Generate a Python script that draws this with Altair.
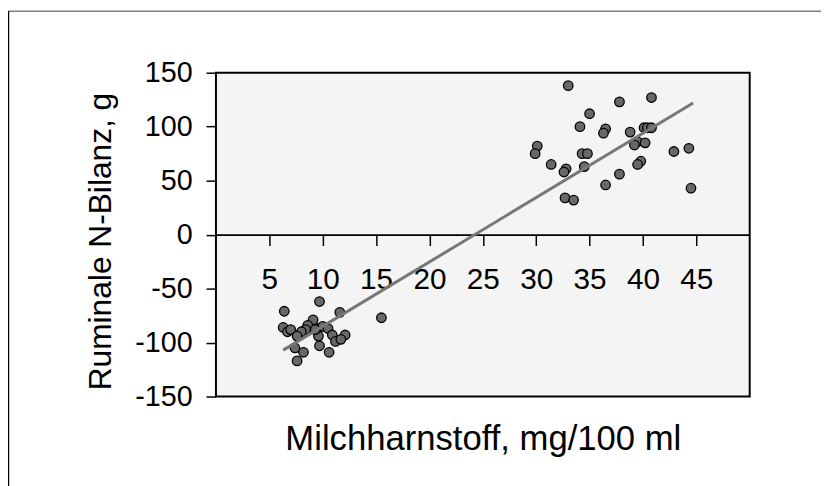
import altair as alt
import pandas as pd

# Scatter data: milk urea (mg/100 ml) vs ruminal N balance (g)
hi_x = [33.0, 37.8, 40.8, 35.0, 34.1, 36.5, 36.3, 38.8, 40.1, 40.4, 40.8, 30.1, 29.9,
        39.5, 39.2, 40.2, 34.3, 34.8, 42.9, 44.3, 31.4, 32.8, 32.6, 34.5, 39.8, 39.5,
        37.8, 36.5, 44.5, 32.7, 33.5]
hi_y = [138, 123, 127, 112, 100, 98, 94, 95, 99, 99, 99, 82, 75,
        86, 83, 85, 75, 75, 77, 80, 65, 61, 58, 63, 68, 65,
        56, 46, 43, 34, 32]
lo_x = [6.4, 9.7, 11.6, 15.5, 6.3, 6.7, 7.0, 9.1, 8.6, 8.4, 8.0, 7.6, 9.5, 10.0,
        10.5, 9.6, 10.9, 12.1, 11.2, 11.7, 9.7, 7.4, 8.2, 10.6, 7.6, 9.3]
lo_y = [-71, -62, -72, -77, -86, -90, -88, -79, -84, -88, -90, -94, -87, -85,
        -87, -94, -93, -93, -99, -97, -103, -105, -109, -109, -117, -88]

# Trend line end points
line_x = [6.3, 44.7]
line_y = [-107, 122]

x_ticks = [5, 10, 15, 20, 25, 30, 35, 40, 45]
y_ticks = [-150, -100, -50, 0, 50, 100, 150]

pts = pd.DataFrame({"x": hi_x + lo_x, "y": hi_y + lo_y})
ln = pd.DataFrame({"x": line_x, "y": line_y})

W, H = 539, 327
FONT = "Liberation Sans"

xscale = alt.Scale(domain=[0, 50], nice=False, zero=False)
yscale = alt.Scale(domain=[-150, 150], nice=False)

xaxis = alt.Axis(
    values=x_ticks, offset=-H / 2, domainColor="#000", domainWidth=2,
    tickColor="#000", tickWidth=1.5, tickSize=11, labelPadding=19,
    labelFontSize=30, labelFont=FONT, labelColor="#000", grid=False,
    labelExpr="'' + datum.value",
    title="Milchharnstoff, mg/100 ml", titleFont=FONT, titleFontSize=35,
    titleFontWeight="normal", titleColor="#000", titleY=217.5,
    titleBaseline="alphabetic", labelFlush=False,
)
yaxis = alt.Axis(
    values=y_ticks, domain=False, tickColor="#000", tickWidth=1.5, tickSize=10,
    labelPadding=14, labelFontSize=29, labelFont=FONT, labelColor="#000",
    labelExpr="'' + datum.value",
    grid=False, title="Ruminale N-Bilanz, g", titleFont=FONT, titleFontSize=32,
    titleFontWeight="normal", titleColor="#000", titleX=-106, titleY=170,
    titleAngle=-90, titleBaseline="alphabetic", titleAlign="center", labelFlush=False,
)

points = alt.Chart(pts).mark_point(
    shape="circle", filled=True, size=92, fill="#686868", stroke="#000",
    strokeWidth=1.3, opacity=1,
).encode(
    x=alt.X("x:Q", scale=xscale, axis=xaxis),
    y=alt.Y("y:Q", scale=yscale, axis=yaxis),
)

trend = alt.Chart(ln).mark_line(color="#777777", strokeWidth=3).encode(
    x=alt.X("x:Q", scale=xscale),
    y=alt.Y("y:Q", scale=yscale),
)

frame_src = pd.DataFrame({"k": [0]})
top_line = alt.Chart(frame_src).mark_rule(color="#808080", strokeWidth=1.5).encode(
    x=alt.value(-210), x2=alt.value(W + 80), y=alt.value(-62)
)
left_line = alt.Chart(frame_src).mark_rule(color="#000", strokeWidth=1.5).encode(
    x=alt.value(-209.5), y=alt.value(-62), y2=alt.value(H + 100)
)

chart = alt.layer(points, trend, top_line, left_line).properties(
    width=W, height=H,
    autosize=alt.AutoSizeParams(type="none"),
    padding={"left": 210, "top": 63, "right": 72, "bottom": 88},
    background="#ffffff",
).configure_view(
    fill="#f4f4f4", stroke="#000", strokeWidth=2
)

chart.save("out.html", embed_options={"renderer": "svg", "actions": False})
